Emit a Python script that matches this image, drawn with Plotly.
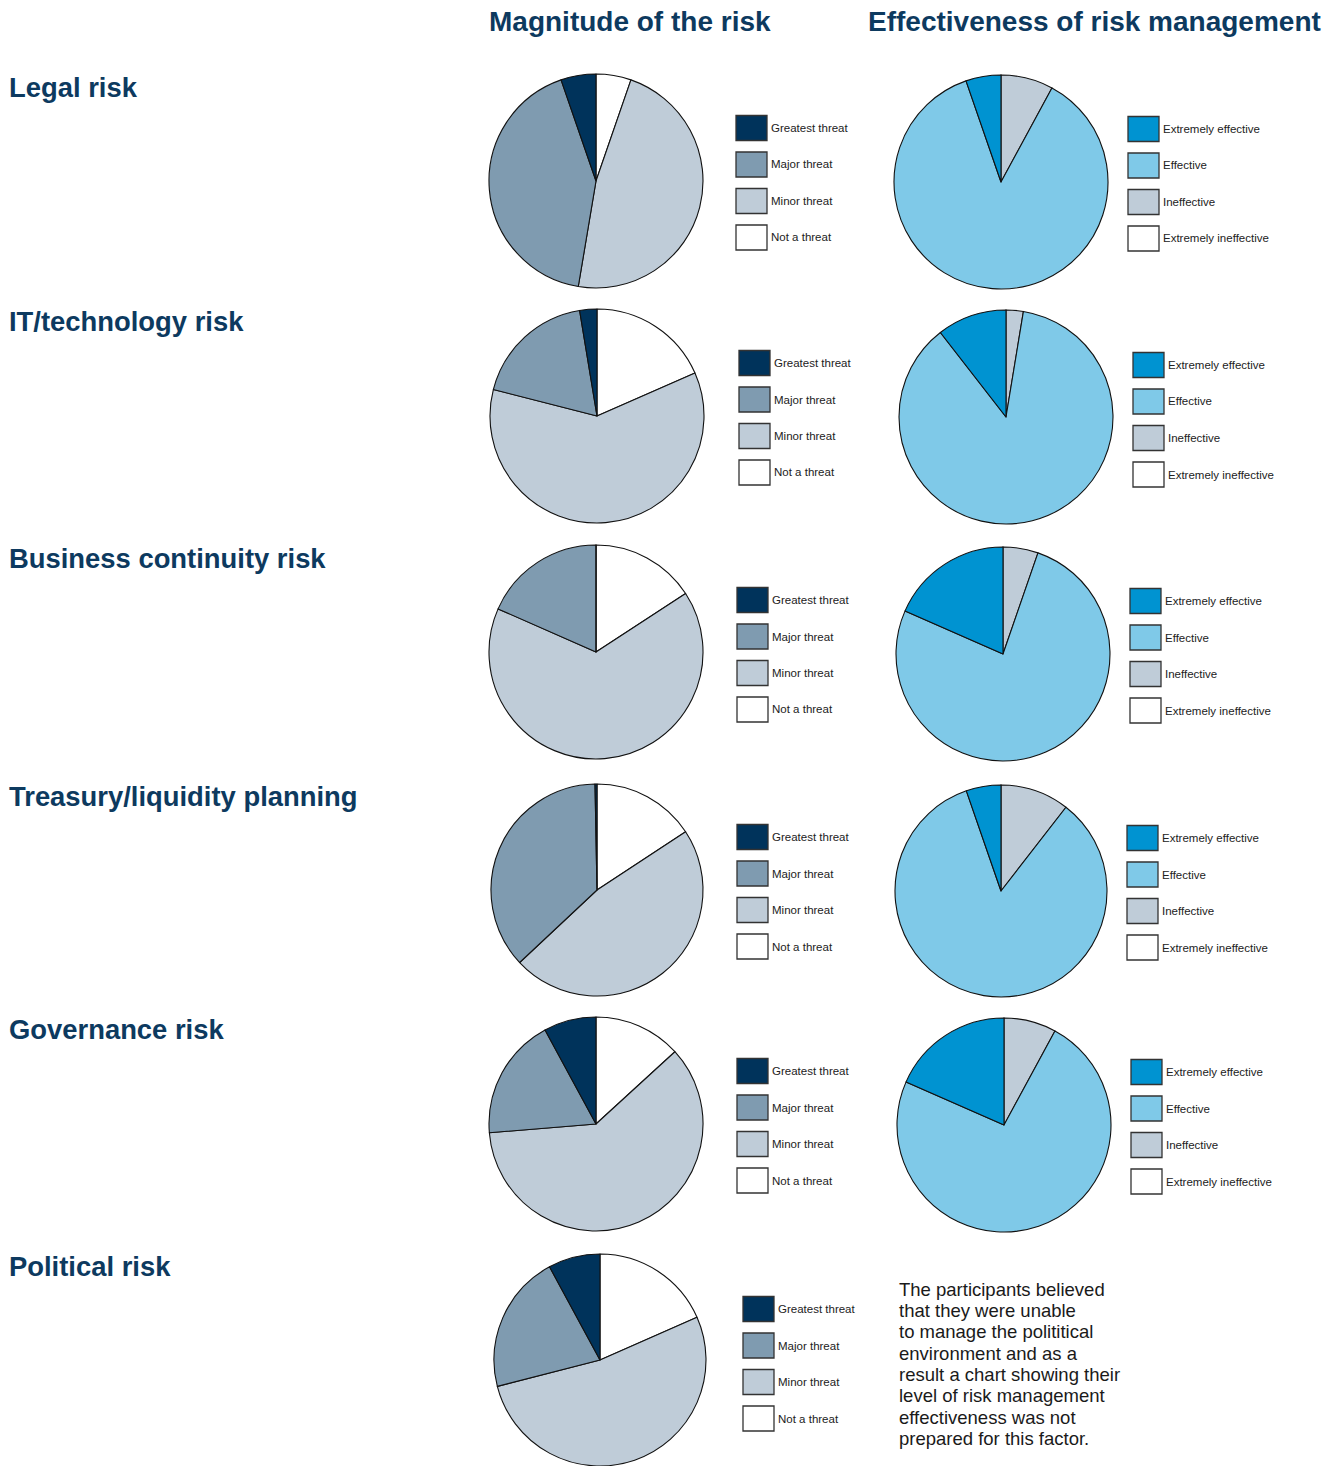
import plotly.graph_objects as go

# ---- data (percent of respondents) ----
threat_levels = ["Greatest threat", "Major threat", "Minor threat", "Not a threat"]
effect_levels = ["Extremely effective", "Effective", "Ineffective", "Extremely ineffective"]

risks = ["Legal risk", "IT/technology risk", "Business continuity risk",
         "Treasury/liquidity planning", "Governance risk", "Political risk"]

legal_magnitude = [5.3, 42.1, 47.4, 5.3]
it_magnitude = [2.6, 18.4, 60.5, 18.4]
continuity_magnitude = [0, 18.4, 65.8, 15.8]
treasury_magnitude = [0.3, 36.8, 47.4, 15.8]
governance_magnitude = [7.9, 18.4, 60.5, 13.2]
political_magnitude = [7.9, 21.1, 52.6, 18.4]

legal_effectiveness = [5.3, 86.8, 7.9, 0]
it_effectiveness = [10.5, 86.8, 2.6, 0]
continuity_effectiveness = [18.4, 76.3, 5.3, 0]
treasury_effectiveness = [5.3, 84.2, 10.5, 0]
governance_effectiveness = [18.4, 73.7, 7.9, 0]

magnitude_series = [legal_magnitude, it_magnitude, continuity_magnitude,
                    treasury_magnitude, governance_magnitude, political_magnitude]
effectiveness_series = [legal_effectiveness, it_effectiveness, continuity_effectiveness,
                        treasury_effectiveness, governance_effectiveness, None]

note_lines = ["The participants believed", "that they were unable",
              "to manage the polititical", "environment and as a",
              "result a chart showing their", "level of risk management",
              "effectiveness was not", "prepared for this factor."]

# ---- styling ----
W, H = 1338, 1466
NAVY = "#0d3a5f"
threat_colors = ["#00335b", "#7f9bb0", "#bfccd8", "#ffffff"]
effect_colors = ["#0093d1", "#7fc9e8", "#bfccd8", "#ffffff"]
FONT = "Liberation Sans, Arial, Helvetica, sans-serif"

# pie geometry in pixels: (centre x, centre y, radius)
mag_geo = [(596, 181, 107), (597, 416, 107), (596, 652, 107),
           (597, 890, 106), (596, 1124, 107), (600, 1360, 106)]
eff_geo = [(1001, 182, 107), (1006, 417, 107), (1003, 654, 107),
           (1001, 891, 106), (1004, 1125, 107)]
# legend block: (box left x, first row centre y)
mag_leg = [(736, 128), (739, 363), (737, 600), (737, 837), (737, 1071), (743, 1309)]
eff_leg = [(1128, 129), (1133, 365), (1130, 601), (1127, 838), (1131, 1072)]
row_title_y = [87, 321, 558, 796, 1029, 1266]


def px(x):
    return x / W


def py(y):
    return 1 - y / H


fig = go.Figure()


def add_pie(values, labels, colors, geo):
    # slices run clockwise from 12 o'clock, last category first,
    # so the first category ends up just left of the top
    cx, cy, r = geo
    y0 = max(0.0, py(cy + r))
    y1 = min(1.0, py(cy - r))
    fig.add_trace(go.Pie(
        values=values[::-1], labels=labels[::-1], sort=False, direction="clockwise",
        rotation=0, textinfo="none", hoverinfo="label+percent", showlegend=False,
        marker=dict(colors=colors[::-1], line=dict(color="#111111", width=1.1)),
        domain=dict(x=[px(cx - r), px(cx + r)], y=[y0, y1]),
    ))


shapes = []
annotations = []


def add_legend(labels, colors, pos):
    x0, y0 = pos
    for i, (lab, col) in enumerate(zip(labels, colors)):
        yc = y0 + i * 36.5
        shapes.append(dict(type="rect", xref="paper", yref="paper",
                           x0=px(x0), x1=px(x0 + 31), y0=py(yc + 12.5), y1=py(yc - 12.5),
                           fillcolor=col, line=dict(color="#333333", width=1.3)))
        annotations.append(dict(text=lab, xref="paper", yref="paper",
                                x=px(x0 + 33), y=py(yc), xanchor="left", yanchor="middle",
                                showarrow=False, font=dict(family=FONT, size=11.5, color="#222222")))


for i, risk in enumerate(risks):
    add_pie(magnitude_series[i], threat_levels, threat_colors, mag_geo[i])
    add_legend(threat_levels, threat_colors, mag_leg[i])
    if effectiveness_series[i] is not None:
        add_pie(effectiveness_series[i], effect_levels, effect_colors, eff_geo[i])
        add_legend(effect_levels, effect_colors, eff_leg[i])
    annotations.append(dict(text="<b>" + risk + "</b>", xref="paper", yref="paper",
                            x=px(7), y=py(row_title_y[i]), xanchor="left", yanchor="middle",
                            showarrow=False, font=dict(family=FONT, size=27.4, color=NAVY)))

# column headings
annotations.append(dict(text="<b>Magnitude of the risk</b>", xref="paper", yref="paper",
                        x=px(487), y=py(22), xanchor="left", yanchor="middle", showarrow=False,
                        font=dict(family=FONT, size=28, color=NAVY)))
annotations.append(dict(text="<b>Effectiveness of risk management</b>", xref="paper", yref="paper",
                        x=px(866), y=py(22), xanchor="left", yanchor="middle", showarrow=False,
                        font=dict(family=FONT, size=28, color=NAVY)))

# explanatory note in place of the political-risk effectiveness chart
for k, line in enumerate(note_lines):
    annotations.append(dict(text=line, xref="paper", yref="paper",
                            x=px(897), y=py(1289 + k * 21.35), xanchor="left", yanchor="middle",
                            showarrow=False, font=dict(family=FONT, size=18.5, color="#1a1a1a")))

fig.update_layout(
    width=W, height=H, margin=dict(l=0, r=0, t=0, b=0),
    paper_bgcolor="white", plot_bgcolor="white",
    shapes=shapes, annotations=annotations,
)

fig.write_html("out.html")
